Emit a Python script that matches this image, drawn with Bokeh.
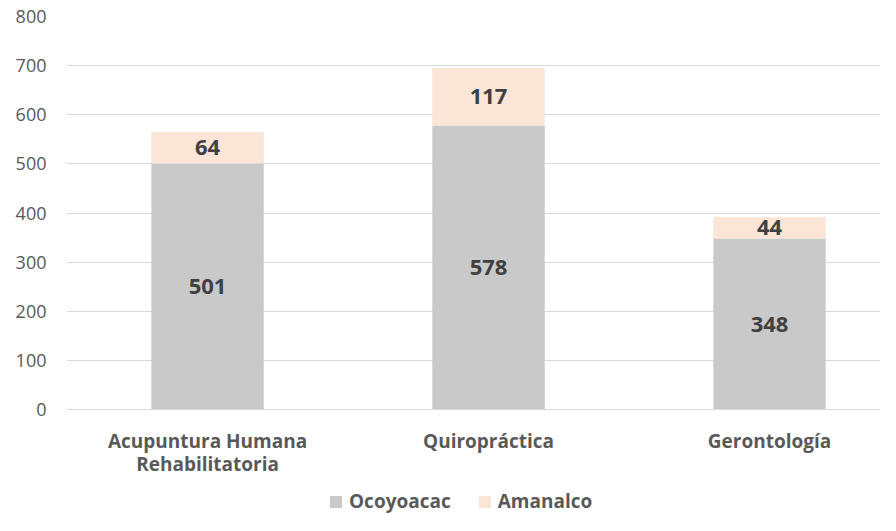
from bokeh.plotting import figure
from bokeh.models import ColumnDataSource, Range1d, FixedTicker, Legend, LegendItem, LabelSet, Span
from bokeh.embed import file_html
from bokeh.resources import INLINE
from bokeh.core.properties import value

categories = ["Acupuntura Humana\nRehabilitatoria", "Quiropráctica", "Gerontología"]
ocoyoacac = [501, 578, 348]
amanalco = [64, 117, 44]
y_ticks = [0, 100, 200, 300, 400, 500, 600, 700, 800]

FONT = "Open Sans"
xs = list(range(len(categories)))
top2 = [a + b for a, b in zip(ocoyoacac, amanalco)]
lines = [c.split("\n") for c in categories]
src = ColumnDataSource(dict(
    x=xs, o=ocoyoacac, a=amanalco, top2=top2, zero=[0] * len(xs),
    line1=[l[0] for l in lines], line2=[l[1] if len(l) > 1 else "" for l in lines],
    mid1=[v / 2 for v in ocoyoacac],
    mid2=[o + a / 2 for o, a in zip(ocoyoacac, amanalco)],
    olab=[str(v) for v in ocoyoacac], alab=[str(v) for v in amanalco],
))

# frame spans px 16..515 vertically; 0..800 occupies 16..409
y_lo = -(515 - 409) * 800 / 393
p = figure(width=880, height=515, output_backend="svg", toolbar_location=None,
           x_range=Range1d(-0.502, 2.395), y_range=Range1d(y_lo, 800),
           min_border_left=66, min_border_right=0, min_border_top=16, min_border_bottom=0)
p.outline_line_color = None
p.background_fill_color = "white"
p.border_fill_color = "white"

p.ygrid.grid_line_color = "#D9D9D9"
p.ygrid.grid_line_width = 1
p.ygrid.ticker = FixedTicker(ticks=y_ticks)
p.xgrid.grid_line_color = None
p.xaxis.visible = False
p.add_layout(Span(location=0, dimension="width", line_color="#D9D9D9", line_width=1))

r1 = p.vbar(x="x", bottom=0, top="o", width=0.40, source=src, fill_color="#C9C9C9", line_color=None)
r2 = p.vbar(x="x", bottom="o", top="top2", width=0.40, source=src, fill_color="#FBE5D6", line_color=None)

for col, ycol in (("olab", "mid1"), ("alab", "mid2")):
    p.add_layout(LabelSet(x="x", y=ycol, text=col, source=src, text_align="center",
                          text_baseline="middle", text_font=value(FONT), text_font_style="bold",
                          text_font_size="22px", text_color="#404040"))

for col, off in (("line1", -31), ("line2", -54)):
    p.add_layout(LabelSet(x="x", y="zero", text=col, source=src, text_align="center",
                          text_baseline="middle", y_offset=off, text_font=value(FONT),
                          text_font_style="bold", text_font_size="19px", text_color="#595959"))

p.yaxis.ticker = FixedTicker(ticks=y_ticks)
p.yaxis.axis_line_color = None
p.yaxis.major_tick_line_color = None
p.yaxis.minor_tick_line_color = None
p.yaxis.major_tick_out = 0
p.yaxis.major_label_text_font = FONT
p.yaxis.major_label_text_font_size = "18px"
p.yaxis.major_label_text_color = "#595959"
p.yaxis.major_label_standoff = 20

legend = Legend(items=[LegendItem(label="Ocoyoacac", renderers=[r1]),
                       LegendItem(label="Amanalco", renderers=[r2])],
                orientation="horizontal", location=(262, 1),
                label_text_font=FONT, label_text_font_style="bold", label_text_font_size="19px",
                label_text_color="#595959", glyph_width=15, glyph_height=15,
                spacing=26, label_standoff=6, border_line_color=None, background_fill_alpha=0,
                padding=2, margin=0)
p.add_layout(legend, "center")

open("out.html", "w").write(file_html(p, INLINE))
